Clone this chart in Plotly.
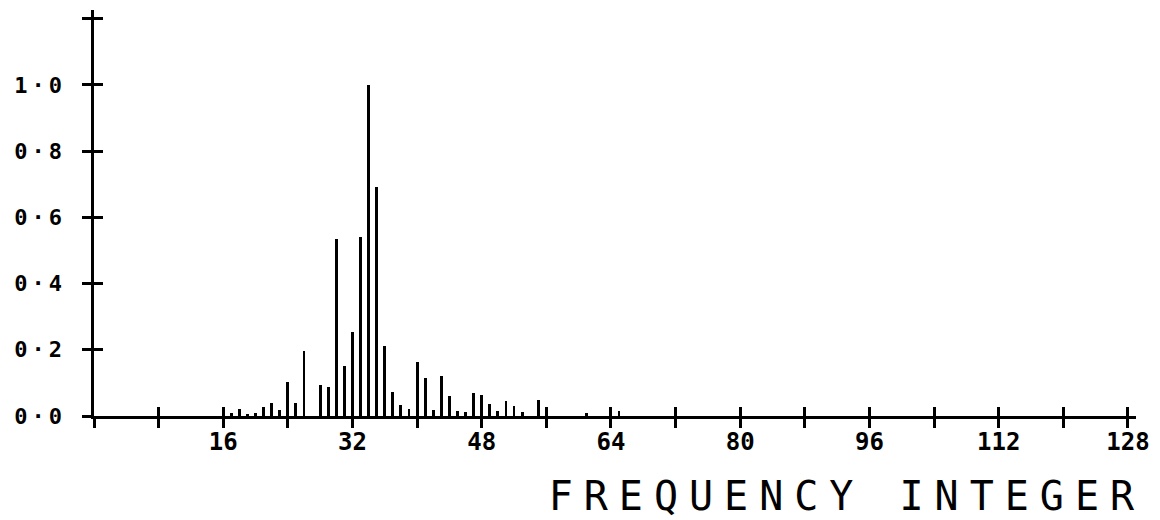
import plotly.graph_objects as go

# Normalised spectrum amplitude at each frequency integer
freq = [17, 18, 19, 20, 21, 22, 23, 24, 25, 26, 28, 29, 30, 31, 32, 33, 34, 35,
        36, 37, 38, 39, 40, 41, 42, 43, 44, 45, 46, 47, 48, 49, 50, 51, 52, 53,
        55, 61, 65]
amplitude = [0.010, 0.020, 0.006, 0.010, 0.028, 0.040, 0.017, 0.102, 0.040,
             0.196, 0.095, 0.087, 0.535, 0.150, 0.255, 0.542, 1.000, 0.692,
             0.212, 0.072, 0.034, 0.020, 0.163, 0.115, 0.019, 0.120, 0.060,
             0.014, 0.012, 0.070, 0.064, 0.035, 0.014, 0.045, 0.030, 0.012,
             0.048, 0.008, 0.015]

x_tickvals = list(range(0, 129, 8))
x_ticktext = [str(v) if v % 16 == 0 and v > 0 else "" for v in x_tickvals]
y_tickvals = [0.0, 0.2, 0.4, 0.6, 0.8, 1.0, 1.2]
y_ticktext = ["0·0", "0·2", "0·4", "0·6", "0·8", "1·0", ""]

X_RANGE = [0, 129]
Y_RANGE = [0, 1.226]
INK = "black"

fig = go.Figure()
fig.add_trace(go.Bar(x=freq, y=amplitude, width=0.36,
                     marker=dict(color=INK, line=dict(width=0)),
                     showlegend=False, hoverinfo="x+y"))
# empty trace so the overlay axes (inner half of each tick cross) are drawn
fig.add_trace(go.Scatter(x=[], y=[], xaxis="x2", yaxis="y2", showlegend=False))

axis_common = dict(showgrid=False, zeroline=False, tickcolor=INK, tickwidth=3,
                   ticklen=9, tickmode="array")

fig.update_layout(
    width=1160, height=520,
    margin=dict(l=94, r=15, t=10, b=104),
    paper_bgcolor="white", plot_bgcolor="white",
    bargap=0,
    # outer half of the tick crosses plus the axis lines
    xaxis=dict(range=X_RANGE, tickvals=x_tickvals, ticks="outside",
               showticklabels=False, showline=True, linecolor=INK,
               linewidth=3, **axis_common),
    yaxis=dict(range=Y_RANGE, tickvals=y_tickvals, ticks="outside",
               showticklabels=False, showline=True, linecolor=INK,
               linewidth=3, **axis_common),
    # inner half of the tick crosses, carrying the labels
    xaxis2=dict(range=X_RANGE, overlaying="x", anchor="y", side="bottom",
                tickvals=x_tickvals, ticktext=x_ticktext, ticks="inside",
                showline=False, ticklabelstandoff=9,
                tickfont=dict(family="DejaVu Sans Mono", size=24, color=INK,
                              weight="bold"),
                **axis_common),
    yaxis2=dict(range=Y_RANGE, overlaying="y", anchor="x", side="left",
                tickvals=y_tickvals, ticktext=y_ticktext, ticks="inside",
                showline=False, ticklabelstandoff=27,
                tickfont=dict(family="DejaVu Sans Mono", size=22, color=INK,
                              weight="bold"),
                **axis_common),
    annotations=[dict(
        text="FREQUENCY INTEGER", xref="paper", yref="paper",
        x=1.0, xshift=12, y=-0.196, xanchor="right", yanchor="middle",
        align="right", width=640, showarrow=False,
        font=dict(family="DejaVu Sans Mono", size=40, color=INK),
    )],
)

# plotter-style wide letter spacing for the lettering
post = """
var s = document.createElement('style');
s.innerHTML = '.annotation-text{letter-spacing:11px;} .y2tick text{letter-spacing:4px;}';
document.head.appendChild(s);
"""

fig.write_html("out.html", post_script=post)
